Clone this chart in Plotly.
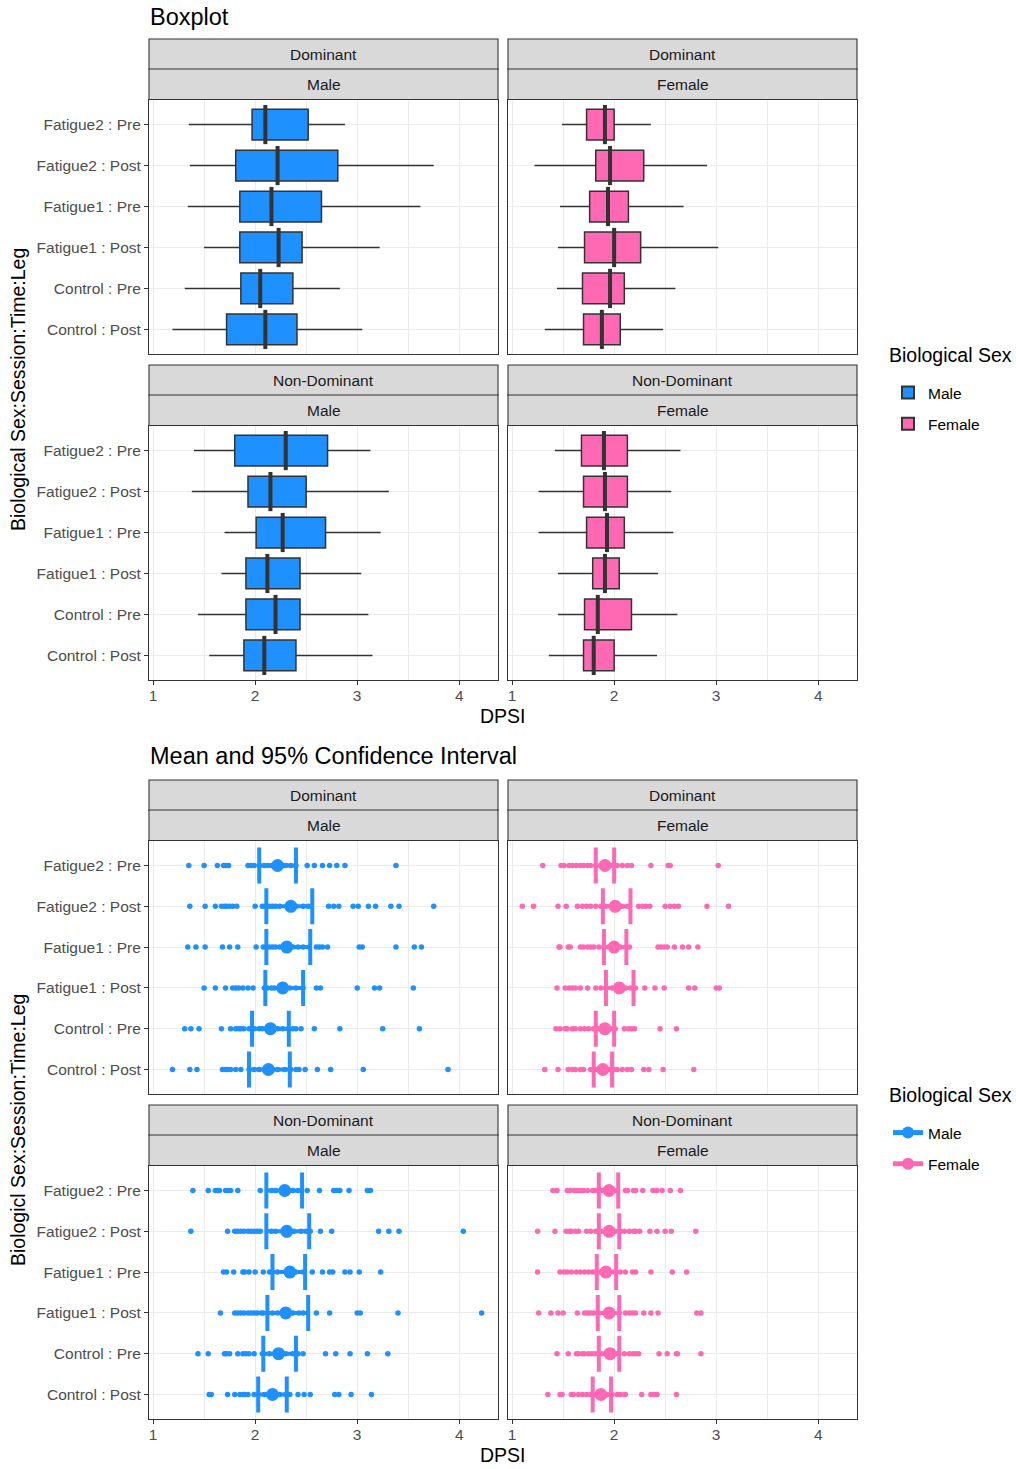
import plotly.graph_objects as go

# ---------------- data ----------------
categories = ["Fatigue2 : Pre", "Fatigue2 : Post", "Fatigue1 : Pre",
              "Fatigue1 : Post", "Control : Pre", "Control : Post"]
x_ticks = [1, 2, 3, 4]
sex_labels = ["Male", "Female"]
leg_labels = ["Dominant", "Non-Dominant"]

# Boxplot statistics (order = categories)
dom_male_lower = [1.35, 1.36, 1.34, 1.50, 1.31, 1.19]
dom_male_q1 = [1.97, 1.81, 1.85, 1.85, 1.86, 1.72]
dom_male_median = [2.10, 2.22, 2.16, 2.23, 2.05, 2.10]
dom_male_q3 = [2.52, 2.81, 2.65, 2.46, 2.37, 2.41]
dom_male_upper = [2.88, 3.75, 3.62, 3.22, 2.83, 3.05]

dom_female_lower = [1.49, 1.22, 1.47, 1.45, 1.44, 1.32]
dom_female_q1 = [1.73, 1.82, 1.76, 1.71, 1.69, 1.70]
dom_female_median = [1.91, 1.96, 1.94, 2.00, 1.96, 1.88]
dom_female_q3 = [2.00, 2.29, 2.14, 2.26, 2.10, 2.06]
dom_female_upper = [2.36, 2.91, 2.68, 3.02, 2.60, 2.48]

nondom_male_lower = [1.40, 1.38, 1.70, 1.67, 1.44, 1.55]
nondom_male_q1 = [1.80, 1.93, 2.01, 1.91, 1.91, 1.89]
nondom_male_median = [2.30, 2.15, 2.27, 2.12, 2.20, 2.09]
nondom_male_q3 = [2.71, 2.50, 2.69, 2.44, 2.44, 2.40]
nondom_male_upper = [3.13, 3.31, 3.23, 3.04, 3.11, 3.15]

nondom_female_lower = [1.42, 1.26, 1.26, 1.45, 1.45, 1.36]
nondom_female_q1 = [1.68, 1.70, 1.73, 1.79, 1.71, 1.70]
nondom_female_median = [1.90, 1.91, 1.93, 1.91, 1.84, 1.80]
nondom_female_q3 = [2.13, 2.13, 2.10, 2.05, 2.17, 2.00]
nondom_female_upper = [2.65, 2.56, 2.58, 2.43, 2.62, 2.42]

# Means and 95% CI
dom_male_mean = [2.22, 2.35, 2.31, 2.27, 2.15, 2.13]
dom_male_lo = [2.04, 2.11, 2.11, 2.10, 1.97, 1.94]
dom_male_hi = [2.40, 2.56, 2.54, 2.47, 2.33, 2.34]
dom_female_mean = [1.91, 2.01, 2.00, 2.05, 1.91, 1.89]
dom_female_lo = [1.82, 1.89, 1.90, 1.92, 1.82, 1.80]
dom_female_hi = [2.00, 2.16, 2.12, 2.19, 2.00, 1.98]
nondom_male_mean = [2.29, 2.31, 2.34, 2.30, 2.23, 2.17]
nondom_male_lo = [2.11, 2.11, 2.17, 2.12, 2.08, 2.03]
nondom_male_hi = [2.46, 2.53, 2.49, 2.52, 2.40, 2.31]
nondom_female_mean = [1.95, 1.95, 1.92, 1.95, 1.96, 1.87]
nondom_female_lo = [1.85, 1.85, 1.83, 1.84, 1.85, 1.79]
nondom_female_hi = [2.04, 2.05, 2.02, 2.05, 2.05, 1.97]

# Individual observations (one list per category)
dom_male_points = [
    [1.35, 1.50, 1.63, 1.69, 1.71, 1.74, 1.93, 1.96, 1.99, 2.04, 2.09, 2.12, 2.16, 2.27, 2.30, 2.35, 2.40, 2.51, 2.58, 2.66, 2.73, 2.80, 2.88, 3.38],
    [1.36, 1.51, 1.61, 1.67, 1.70, 1.72, 1.75, 1.78, 1.82, 2.00, 2.07, 2.10, 2.14, 2.17, 2.20, 2.24, 2.40, 2.47, 2.52, 2.55, 2.72, 2.77, 2.82, 2.96, 3.01, 3.11, 3.18, 3.33, 3.41, 3.75],
    [1.34, 1.42, 1.51, 1.68, 1.75, 1.83, 2.01, 2.08, 2.11, 2.14, 2.17, 2.20, 2.24, 2.37, 2.42, 2.47, 2.53, 2.60, 2.63, 2.66, 2.71, 3.02, 3.05, 3.38, 3.56, 3.63],
    [1.50, 1.61, 1.71, 1.78, 1.81, 1.84, 1.88, 1.93, 1.98, 2.09, 2.12, 2.16, 2.19, 2.34, 2.40, 2.47, 2.60, 2.64, 3.00, 3.17, 3.22, 3.55],
    [1.31, 1.37, 1.45, 1.67, 1.76, 1.81, 1.84, 1.86, 1.89, 1.94, 1.99, 2.04, 2.07, 2.22, 2.27, 2.33, 2.37, 2.40, 2.45, 2.58, 2.83, 3.25, 3.61],
    [1.19, 1.36, 1.43, 1.68, 1.71, 1.73, 1.76, 1.81, 1.86, 1.94, 1.99, 2.04, 2.09, 2.17, 2.22, 2.29, 2.35, 2.40, 2.43, 2.49, 2.61, 2.74, 3.06, 3.89],
]
dom_female_points = [
    [1.30, 1.48, 1.51, 1.56, 1.59, 1.63, 1.67, 1.70, 1.74, 1.77, 1.82, 1.87, 1.98, 2.03, 2.08, 2.13, 2.17, 2.36, 2.53, 2.55, 3.02],
    [1.10, 1.21, 1.45, 1.53, 1.64, 1.69, 1.73, 1.77, 1.82, 1.87, 1.92, 1.97, 2.08, 2.13, 2.24, 2.28, 2.31, 2.35, 2.50, 2.55, 2.59, 2.63, 2.91, 3.12],
    [1.46, 1.47, 1.55, 1.57, 1.67, 1.70, 1.74, 1.77, 1.80, 1.85, 1.90, 1.95, 2.06, 2.11, 2.15, 2.43, 2.46, 2.49, 2.52, 2.59, 2.67, 2.73, 2.82],
    [1.44, 1.52, 1.56, 1.59, 1.62, 1.67, 1.74, 1.82, 1.87, 1.92, 1.98, 2.11, 2.16, 2.21, 2.30, 2.40, 2.49, 2.73, 2.79, 3.00, 3.03],
    [1.43, 1.47, 1.52, 1.54, 1.59, 1.62, 1.67, 1.71, 1.75, 1.80, 1.85, 1.97, 2.01, 2.10, 2.14, 2.17, 2.20, 2.45, 2.61],
    [1.32, 1.45, 1.55, 1.59, 1.62, 1.67, 1.70, 1.77, 1.82, 1.95, 2.00, 2.03, 2.08, 2.13, 2.17, 2.29, 2.34, 2.48, 2.78],
]
nondom_male_points = [
    [1.39, 1.54, 1.61, 1.63, 1.65, 1.71, 1.74, 1.76, 1.83, 2.05, 2.16, 2.20, 2.37, 2.42, 2.51, 2.63, 2.77, 2.80, 2.83, 2.92, 3.10, 3.13],
    [1.37, 1.73, 1.80, 1.83, 1.86, 1.89, 1.93, 1.96, 1.99, 2.02, 2.05, 2.16, 2.20, 2.38, 2.45, 2.50, 2.54, 2.64, 2.75, 3.21, 3.31, 3.41, 4.04],
    [1.69, 1.72, 1.79, 1.88, 1.90, 1.94, 2.00, 2.08, 2.14, 2.22, 2.40, 2.47, 2.56, 2.66, 2.73, 2.76, 2.88, 2.93, 3.02, 3.23],
    [1.66, 1.80, 1.83, 1.86, 1.89, 1.93, 1.96, 1.99, 2.02, 2.06, 2.08, 2.17, 2.22, 2.37, 2.43, 2.47, 2.60, 2.73, 3.00, 3.03, 3.40, 4.22],
    [1.44, 1.54, 1.70, 1.72, 1.75, 1.83, 1.88, 1.91, 1.94, 1.99, 2.07, 2.14, 2.30, 2.37, 2.42, 2.47, 2.69, 2.79, 2.93, 3.10, 3.30],
    [1.55, 1.57, 1.73, 1.80, 1.85, 1.88, 1.90, 1.93, 1.99, 2.03, 2.09, 2.24, 2.30, 2.34, 2.42, 2.48, 2.54, 2.78, 2.82, 2.94, 3.14],
]
nondom_female_points = [
    [1.40, 1.44, 1.54, 1.57, 1.61, 1.64, 1.67, 1.70, 1.74, 1.79, 1.82, 1.87, 1.90, 2.01, 2.11, 2.13, 2.19, 2.21, 2.28, 2.38, 2.42, 2.47, 2.55, 2.65],
    [1.25, 1.42, 1.53, 1.56, 1.58, 1.62, 1.65, 1.73, 1.77, 1.82, 1.87, 2.01, 2.06, 2.10, 2.15, 2.19, 2.21, 2.25, 2.35, 2.42, 2.50, 2.56, 2.80],
    [1.25, 1.47, 1.51, 1.54, 1.58, 1.63, 1.67, 1.71, 1.75, 1.79, 1.82, 1.86, 2.00, 2.06, 2.11, 2.18, 2.21, 2.36, 2.57, 2.71],
    [1.26, 1.38, 1.45, 1.50, 1.64, 1.71, 1.74, 1.77, 1.80, 1.85, 2.05, 2.11, 2.15, 2.18, 2.21, 2.29, 2.36, 2.43, 2.81, 2.85],
    [1.44, 1.55, 1.63, 1.65, 1.69, 1.71, 1.75, 1.78, 1.81, 1.84, 1.88, 2.03, 2.10, 2.15, 2.18, 2.21, 2.24, 2.44, 2.52, 2.61, 2.62, 2.85],
    [1.35, 1.47, 1.49, 1.58, 1.60, 1.65, 1.69, 1.73, 1.77, 1.80, 1.93, 1.98, 2.03, 2.06, 2.10, 2.11, 2.27, 2.36, 2.39, 2.42, 2.61],
]

# ---------------- styling ----------------
W, H = 1016, 1469
COL = {"Male": "#1E90FF", "Female": "#FF69B4"}
FONT = "Liberation Sans, Arial, sans-serif"
GRID = "#EBEBEB"
DARK = "#333333"
SMALL = 15.5
MID = 19.5
BIG = 23.5

def px_x(x):
    return x / W

def px_y(y):
    return 1 - y / H

col_x = [(149, 498), (508, 857)]
panel_rows = [(100, 354), (426, 680), (841, 1094), (1166, 1419)]

fig = go.Figure()
layout = dict(
    width=W, height=H,
    margin=dict(l=0, r=0, t=0, b=0),
    paper_bgcolor="white", plot_bgcolor="white",
    font=dict(family=FONT, color="#000000"),
    showlegend=True,
    boxmode="overlay",
)
shapes = []
annotations = []

panels = []
ax = 0
for r in range(4):
    for c in range(2):
        ax += 1
        panels.append((ax, r, c))

box_data = {
    ("Dominant", "Male"): (dom_male_lower, dom_male_q1, dom_male_median, dom_male_q3, dom_male_upper),
    ("Dominant", "Female"): (dom_female_lower, dom_female_q1, dom_female_median, dom_female_q3, dom_female_upper),
    ("Non-Dominant", "Male"): (nondom_male_lower, nondom_male_q1, nondom_male_median, nondom_male_q3, nondom_male_upper),
    ("Non-Dominant", "Female"): (nondom_female_lower, nondom_female_q1, nondom_female_median, nondom_female_q3, nondom_female_upper),
}
mean_data = {
    ("Dominant", "Male"): (dom_male_mean, dom_male_lo, dom_male_hi, dom_male_points),
    ("Dominant", "Female"): (dom_female_mean, dom_female_lo, dom_female_hi, dom_female_points),
    ("Non-Dominant", "Male"): (nondom_male_mean, nondom_male_lo, nondom_male_hi, nondom_male_points),
    ("Non-Dominant", "Female"): (nondom_female_mean, nondom_female_lo, nondom_female_hi, nondom_female_points),
}

for ax, r, c in panels:
    leg = leg_labels[r % 2]
    sex = sex_labels[c]
    xs = "x" if ax == 1 else f"x{ax}"
    ys = "y" if ax == 1 else f"y{ax}"
    xk = "xaxis" if ax == 1 else f"xaxis{ax}"
    yk = "yaxis" if ax == 1 else f"yaxis{ax}"
    x0, x1 = col_x[c]
    y0, y1 = panel_rows[r]
    bottom_row = (r % 2 == 1)
    left_col = (c == 0)

    layout[xk] = dict(
        domain=[px_x(x0), px_x(x1)], anchor=ys, range=[0.96, 4.38],
        tickvals=x_ticks, ticktext=[str(t) for t in x_ticks],
        showgrid=True, gridcolor=GRID, gridwidth=1.1,
        minor=dict(tickvals=[1.5, 2.5, 3.5], showgrid=True, gridcolor=GRID, gridwidth=0.6),
        zeroline=False, showline=True, mirror=True, linecolor=DARK, linewidth=1.1,
        ticks="outside" if bottom_row else "", ticklen=4, tickcolor=DARK, tickwidth=1.1,
        showticklabels=bottom_row, ticklabelstandoff=-3,
        tickfont=dict(size=SMALL, color="#4D4D4D", family=FONT),
        fixedrange=True,
    )
    layout[yk] = dict(
        domain=[px_y(y1), px_y(y0)], anchor=xs, type="category",
        categoryorder="array", categoryarray=categories[::-1], range=[-0.6, 5.6],
        showgrid=True, gridcolor=GRID, gridwidth=1.1, zeroline=False,
        showline=True, mirror=True, linecolor=DARK, linewidth=1.1,
        ticks="outside" if left_col else "", ticklen=4, tickcolor=DARK, tickwidth=1.1,
        showticklabels=left_col,
        tickfont=dict(size=SMALL, color="#4D4D4D", family=FONT),
        fixedrange=True,
    )

    # strips
    for label, top in [(leg, y0 - 61), (sex, y0 - 31)]:
        shapes.append(dict(type="rect", xref="paper", yref="paper",
                           x0=px_x(x0), x1=px_x(x1), y0=px_y(top + 30.5), y1=px_y(top),
                           fillcolor="#D9D9D9", line=dict(color=DARK, width=1.1), layer="above"))
        annotations.append(dict(text=label, xref="paper", yref="paper",
                                x=px_x((x0 + x1) / 2), y=px_y(top + 15.5),
                                xanchor="center", yanchor="middle", showarrow=False,
                                font=dict(size=SMALL, color="#1A1A1A", family=FONT)))

    if r < 2:
        lower, q1, med, q3, upper = box_data[(leg, sex)]
        fig.add_trace(go.Box(
            orientation="h", y=categories, q1=q1, median=med, q3=q3,
            lowerfence=lower, upperfence=upper,
            fillcolor=COL[sex], line=dict(color=DARK, width=1.5),
            width=0.75, whiskerwidth=0, boxpoints=False,
            name=sex, legendgroup=sex, legend="legend",
            showlegend=(r == 0), xaxis=xs, yaxis=ys, hoverinfo="skip",
        ))
        fig.add_trace(go.Scatter(
            x=med, y=categories, mode="markers",
            marker=dict(symbol="line-ns", size=28, line=dict(width=4, color=DARK)),
            showlegend=False, xaxis=xs, yaxis=ys, hoverinfo="skip",
        ))
    else:
        mean, lo, hi, pts = mean_data[(leg, sex)]
        px_, py_ = [], []
        for cat, vals in zip(categories, pts):
            px_ += vals
            py_ += [cat] * len(vals)
        fig.add_trace(go.Scatter(
            x=px_, y=py_, mode="markers",
            marker=dict(size=5.5, color=COL[sex]),
            showlegend=False, xaxis=xs, yaxis=ys, hoverinfo="skip",
        ))
        fig.add_trace(go.Scatter(
            x=mean, y=categories, mode="markers",
            marker=dict(size=13, color=COL[sex]),
            error_x=dict(type="data", symmetric=False,
                         array=[h - m for h, m in zip(hi, mean)],
                         arrayminus=[m - l for m, l in zip(mean, lo)],
                         thickness=4, width=18, color=COL[sex]),
            showlegend=False, xaxis=xs, yaxis=ys, hoverinfo="skip",
        ))
        if r == 2 and c == 0:
            for s in sex_labels:
                fig.add_trace(go.Scatter(
                    x=[None], y=[None], mode="lines+markers", name=s,
                    line=dict(color=COL[s], width=4), marker=dict(size=12, color=COL[s]),
                    legend="legend2", legendgroup=s + "2", xaxis=xs, yaxis=ys,
                ))

# titles
for text, y in [("Boxplot", 17), ("Mean and 95% Confidence Interval", 756)]:
    annotations.append(dict(text=text, xref="paper", yref="paper", x=px_x(148), y=px_y(y),
                            xanchor="left", yanchor="middle", showarrow=False,
                            font=dict(size=BIG, color="#000000", family=FONT)))
for y in [716, 1455]:
    annotations.append(dict(text="DPSI", xref="paper", yref="paper", x=px_x(503), y=px_y(y),
                            xanchor="center", yanchor="middle", showarrow=False,
                            font=dict(size=MID, color="#000000", family=FONT)))
for text, y in [("Biological Sex:Session:Time:Leg", 390), ("Biologicl Sex:Session:Time:Leg", 1130)]:
    annotations.append(dict(text=text, xref="paper", yref="paper", x=px_x(18), y=px_y(y),
                            xanchor="center", yanchor="middle", showarrow=False, textangle=-90,
                            font=dict(size=MID, color="#000000", family=FONT)))
# legend titles
for y in [355, 1095]:
    annotations.append(dict(text="Biological Sex", xref="paper", yref="paper", x=px_x(887), y=px_y(y),
                            xanchor="left", yanchor="middle", showarrow=False,
                            font=dict(size=MID, color="#000000", family=FONT)))

legend_common = dict(
    xanchor="left", yanchor="top", bgcolor="rgba(0,0,0,0)",
    font=dict(size=SMALL, color="#000000", family=FONT),
    tracegroupgap=8, itemsizing="constant",
)
layout["legend"] = dict(x=px_x(888), y=px_y(376), **legend_common)
layout["legend2"] = dict(x=px_x(888), y=px_y(1116), **legend_common)
layout["shapes"] = shapes
layout["annotations"] = annotations
fig.update_layout(**layout)

fig.write_html("out.html",
               config={"displayModeBar": False},
               post_script="document.body.style.margin='0';document.body.style.overflow='hidden';")
